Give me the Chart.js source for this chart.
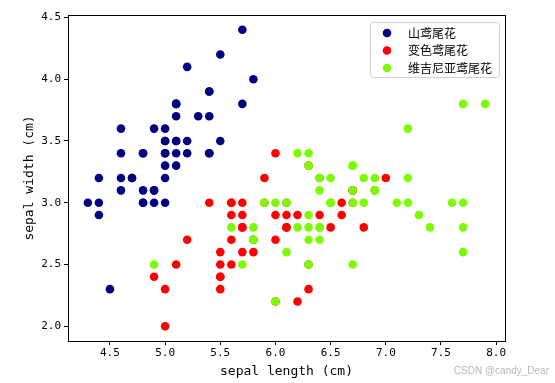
<!DOCTYPE html>
<html><head><meta charset="utf-8">
<script src="https://cdn.jsdelivr.net/npm/chart.js@4"></script>
<style>html,body{margin:0;padding:0;background:#fff}#wrap{width:555px;height:383px;position:relative}</style>
</head><body><div id="wrap"><canvas id="c" width="555" height="383"></canvas></div>
<script>
const seriesNames = ["山鸢尾花", "变色鸢尾花", "维吉尼亚鸢尾花"];
const setosaLen = [5.1,4.9,4.7,4.6,5.0,5.4,4.6,5.0,4.4,4.9,5.4,4.8,4.8,4.3,5.8,5.7,5.4,5.1,5.7,5.1,5.4,5.1,4.6,5.1,4.8,5.0,5.0,5.2,5.2,4.7,4.8,5.4,5.2,5.5,4.9,5.0,5.5,4.9,4.4,5.1,5.0,4.5,4.4,5.0,5.1,4.8,5.1,4.6,5.3,5.0];
const setosaWid = [3.5,3.0,3.2,3.1,3.6,3.9,3.4,3.4,2.9,3.1,3.7,3.4,3.0,3.0,4.0,4.4,3.9,3.5,3.8,3.8,3.4,3.7,3.6,3.3,3.4,3.0,3.4,3.5,3.4,3.2,3.1,3.4,4.1,4.2,3.1,3.2,3.5,3.6,3.0,3.4,3.5,2.3,3.2,3.5,3.8,3.0,3.8,3.2,3.7,3.3];
const versiLen = [7.0,6.4,6.9,5.5,6.5,5.7,6.3,4.9,6.6,5.2,5.0,5.9,6.0,6.1,5.6,6.7,5.6,5.8,6.2,5.6,5.9,6.1,6.3,6.1,6.4,6.6,6.8,6.7,6.0,5.7,5.5,5.5,5.8,6.0,5.4,6.0,6.7,6.3,5.6,5.5,5.5,6.1,5.8,5.0,5.6,5.7,5.7,6.2,5.1,5.7];
const versiWid = [3.2,3.2,3.1,2.3,2.8,2.8,3.3,2.4,2.9,2.7,2.0,3.0,2.2,2.9,2.9,3.1,3.0,2.7,2.2,2.5,3.2,2.8,2.5,2.8,2.9,3.0,2.8,3.0,2.9,2.6,2.4,2.4,2.7,2.7,3.0,3.4,3.1,2.3,3.0,2.5,2.6,3.0,2.6,2.3,2.7,3.0,2.9,2.9,2.5,2.8];
const virgLen = [6.3,5.8,7.1,6.3,6.5,7.6,4.9,7.3,6.7,7.2,6.5,6.4,6.8,5.7,5.8,6.4,6.5,7.7,7.7,6.0,6.9,5.6,7.7,6.3,6.7,7.2,6.2,6.1,6.4,7.2,7.4,7.9,6.4,6.3,6.1,7.7,6.3,6.4,6.0,6.9,6.7,6.9,5.8,6.8,6.7,6.7,6.3,6.5,6.2,5.9];
const virgWid = [3.3,2.7,3.0,2.9,3.0,3.0,2.5,2.9,2.5,3.6,3.2,2.7,3.0,2.5,2.8,3.2,3.0,3.8,2.6,2.2,3.2,2.8,2.8,2.7,3.3,3.2,2.8,3.0,2.8,3.0,2.8,3.8,2.8,2.8,2.6,3.0,3.4,3.1,3.0,3.1,3.1,3.1,2.7,3.2,3.3,3.0,2.5,3.0,3.4,3.0];
const xTicks = [4.5,5.0,5.5,6.0,6.5,7.0,7.5,8.0];
const yTicks = [2.0,2.5,3.0,3.5,4.0,4.5];
const colors = ["#000080", "#ff0000", "#7cfc00"];

const pts = (xs, ys) => xs.map((x, i) => ({x: x, y: ys[i]}));
const allSeries = [pts(setosaLen, setosaWid), pts(versiLen, versiWid), pts(virgLen, virgWid)];

const tickFont = {family: "'DejaVu Sans Mono', monospace", size: 11};
const titleFont = {family: "'DejaVu Sans Mono', monospace", size: 13};

const framePlugin = {
  id: 'frame',
  afterDraw(chart) {
    const ctx = chart.ctx, a = chart.chartArea;
    ctx.save();
    ctx.strokeStyle = '#000'; ctx.lineWidth = 1;
    ctx.strokeRect(Math.round(a.left) + 0.5, Math.round(a.top) + 0.5, Math.round(a.right - a.left), Math.round(a.bottom - a.top));
    // legend
    const lx = 370, ly = 22, lw = 129, lh = 55;
    ctx.fillStyle = 'rgba(255,255,255,0.8)';
    ctx.strokeStyle = '#d0d0d0';
    ctx.beginPath();
    if (ctx.roundRect) ctx.roundRect(lx + 0.5, ly + 0.5, lw, lh, 3); else ctx.rect(lx + 0.5, ly + 0.5, lw, lh);
    ctx.fill(); ctx.stroke();
    ctx.font = "12px 'Noto Sans CJK SC'";
    ctx.textBaseline = 'middle';
    seriesNames.forEach((n, i) => {
      const y = 33 + i * 17.5;
      ctx.fillStyle = colors[i];
      ctx.beginPath(); ctx.arc(387, y, 4.3, 0, Math.PI * 2); ctx.fill();
      ctx.fillStyle = '#000';
      ctx.fillText(n, 408, y);
    });
    // watermark
    ctx.font = "10px 'Liberation Sans', Arial";
    ctx.fillStyle = '#b8b8b8';
    ctx.textAlign = 'right';
    ctx.fillText('CSDN @candy_Dear', 549, 371);
    ctx.restore();
  }
};

new Chart(document.getElementById('c'), {
  type: 'scatter',
  data: {
    datasets: allSeries.map((d, i) => ({
      label: seriesNames[i],
      data: d,
      backgroundColor: colors[i],
      borderColor: colors[i],
      borderWidth: 0,
      pointRadius: 4.3,
      pointHoverRadius: 4.3,
      order: 3 - i
    }))
  },
  options: {
    responsive: false,
    animation: false,
    events: [],
    layout: {padding: {left: 0, right: 50, top: 15, bottom: 0}},
    plugins: {legend: {display: false}, tooltip: {enabled: false}},
    scales: {
      x: {
        type: 'linear', min: 4.12, max: 8.08,
        afterBuildTicks: s => { s.ticks = xTicks.map(v => ({value: v})); },
        afterFit: s => { s.height = 42; },
        grid: {drawOnChartArea: false, drawTicks: true, tickLength: 4, color: '#000', tickColor: '#000'},
        border: {display: true, color: '#000'},
        ticks: {font: tickFont, color: '#000', padding: 2, maxRotation: 0, callback: v => v.toFixed(1)},
        title: {display: true, text: 'sepal length (cm)', font: titleFont, color: '#000', padding: {top: 0, bottom: 4}}
      },
      y: {
        type: 'linear', min: 1.88, max: 4.52,
        afterBuildTicks: s => { s.ticks = yTicks.map(v => ({value: v})); },
        afterFit: s => { s.width = 68; },
        grid: {drawOnChartArea: false, drawTicks: true, tickLength: 4, color: '#000', tickColor: '#000'},
        border: {display: true, color: '#000'},
        ticks: {font: tickFont, color: '#000', padding: 3, callback: v => v.toFixed(1)},
        title: {display: true, text: 'sepal width (cm)', font: titleFont, color: '#000', padding: {top: 22, bottom: 0}}
      }
    }
  },
  plugins: [framePlugin]
});
</script></body></html>
